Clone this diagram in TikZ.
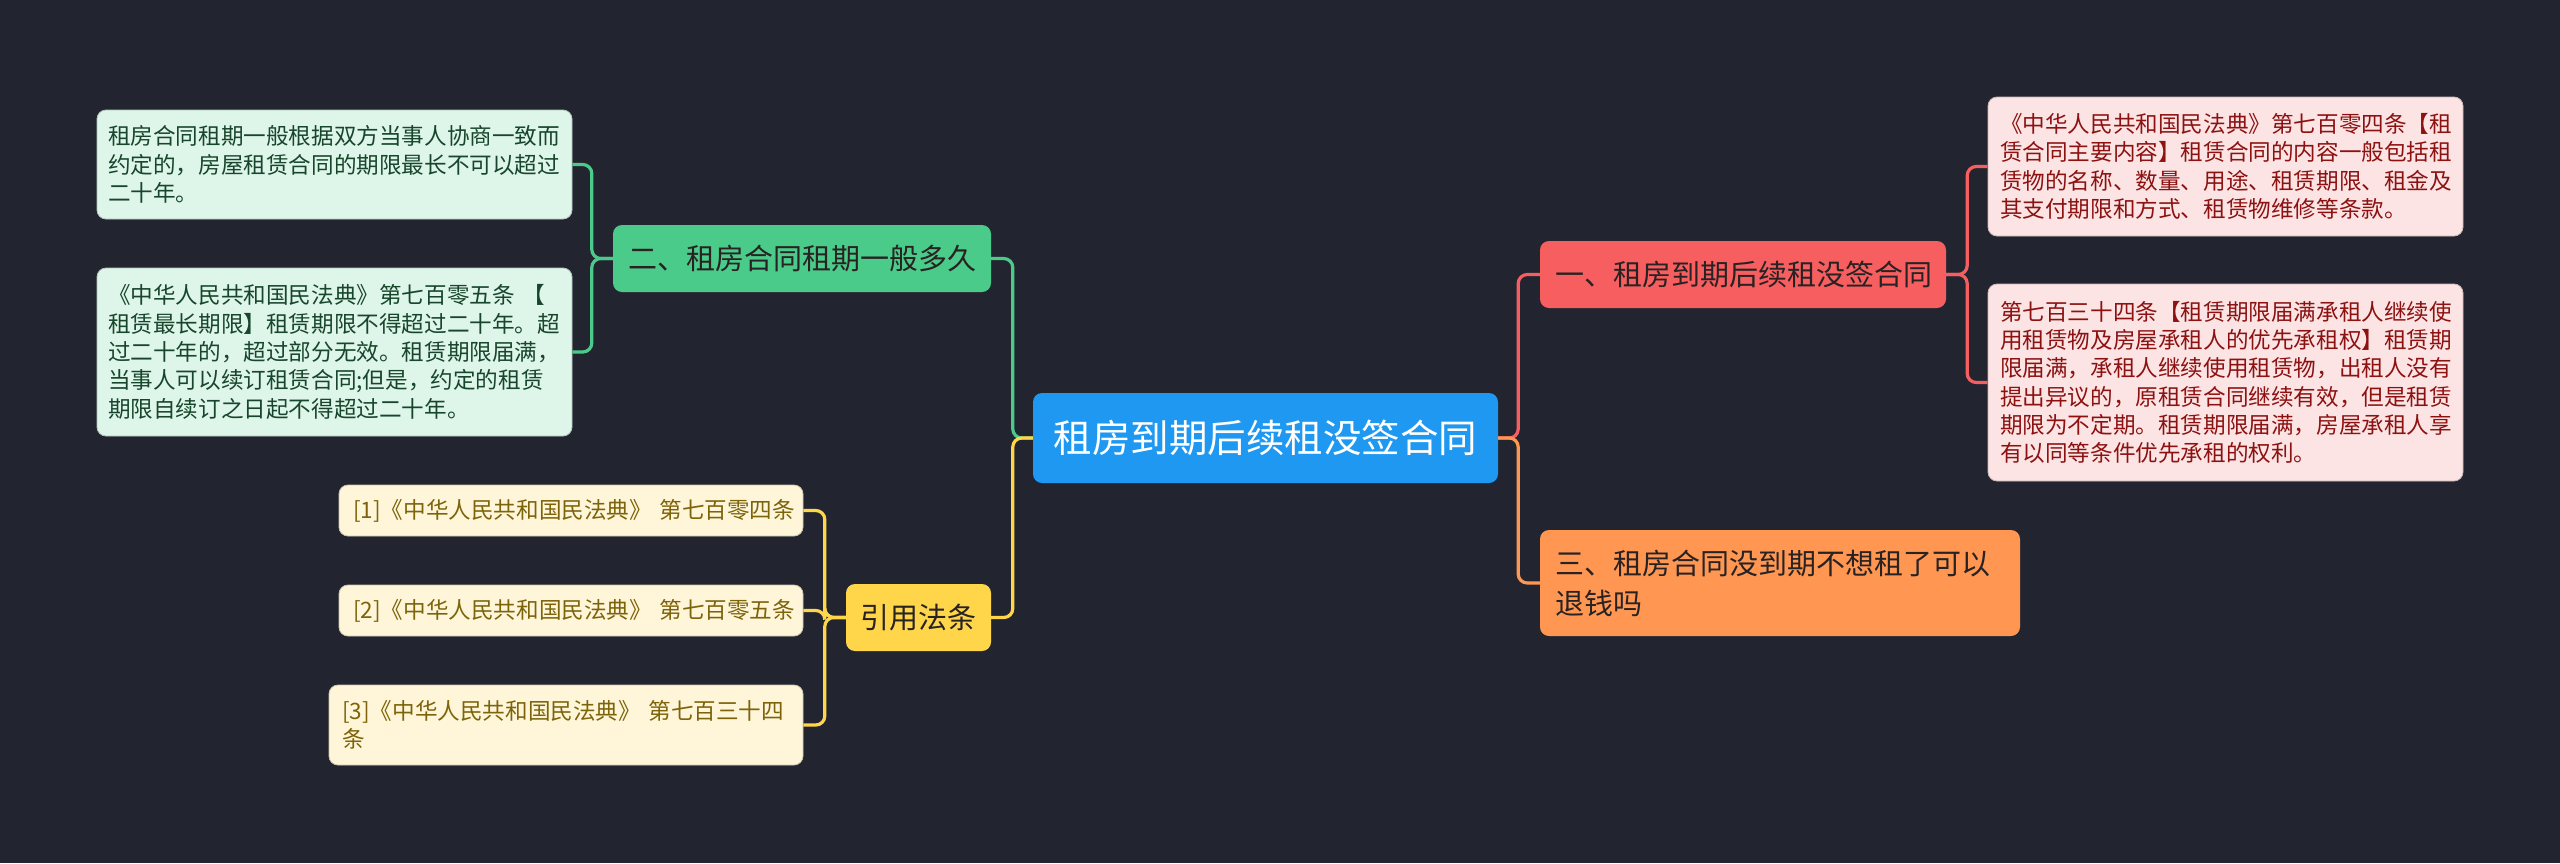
\documentclass[tikz,border=0pt]{standalone}
\usepackage{fontspec}
\setmainfont{Noto Sans CJK SC}
\definecolor{bg}{RGB}{34,37,48}
\definecolor{cblue}{RGB}{30,152,240}
\definecolor{cred}{RGB}{247,94,96}
\definecolor{cgreen}{RGB}{74,203,137}
\definecolor{corange}{RGB}{255,151,82}
\definecolor{cyellow}{RGB}{255,214,74}
\definecolor{lgreen}{RGB}{222,245,233}
\definecolor{lpink}{RGB}{253,228,228}
\definecolor{lcream}{RGB}{255,246,218}
\definecolor{tgreen}{RGB}{24,70,44}
\definecolor{tred}{RGB}{140,18,18}
\definecolor{tolive}{RGB}{125,100,10}
\definecolor{tdark}{RGB}{40,34,34}
\tikzset{
  box/.style={rounded corners=9pt, inner xsep=0pt, inner ysep=0pt, align=left},
  mainbox/.style={box, font=\fontsize{29}{40}\selectfont, text=tdark},
  leafbox/.style={box, font=\fontsize{22.6}{28.3}\selectfont},
  gleaf/.style={leafbox, fill=lgreen, text=tgreen, draw=lgreen!80!black, line width=0.8pt},
  pleaf/.style={leafbox, fill=lpink, text=tred, draw=lpink!80!black, line width=0.8pt},
  cleaf/.style={leafbox, fill=lcream, text=tolive, draw=lcream!80!black, line width=0.8pt},
  conn/.style={line width=3.2pt, rounded corners=9pt},
}
\begin{document}
\begin{tikzpicture}[x=1pt,y=-1pt]
\fill[bg] (0,0) rectangle (2560,863);
\useasboundingbox (0,0) rectangle (2560,863);

% central
\node[box, fill=cblue, text=white, align=center, font=\fontsize{38.5}{46}\selectfont,
  minimum width=465pt, minimum height=90pt] (c) at (1265.5,438) {租房到期后续租没签合同};

% main topics
\node[mainbox, fill=cred, minimum width=406pt, minimum height=67pt, text width=376pt] (n1) at (1743,274.5) {一、租房到期后续租没签合同};
\node[mainbox, fill=cgreen, minimum width=378pt, minimum height=67pt, text width=348pt] (n2) at (802,258.5) {二、租房合同租期一般多久};
\node[mainbox, fill=corange, minimum width=480pt, minimum height=106pt, text width=450pt] (n3) at (1780,583) {三、租房合同没到期不想租了可以\\退钱吗};
\node[mainbox, fill=cyellow, align=center, minimum width=145pt, minimum height=67pt] (cite) at (918.5,617.5) {引用法条};

% left leaves
\node[gleaf, minimum width=475pt, minimum height=109pt, text width=453pt] (l1) at (334.5,164.5) {租房合同租期一般根据双方当事人协商一致而\\约定的，房屋租赁合同的期限最长不可以超过\\二十年。};
\node[gleaf, minimum width=475pt, minimum height=168pt, text width=453pt] (l2) at (334.5,352) {《中华人民共和国民法典》第七百零五条~【\\租赁最长期限】租赁期限不得超过二十年。超\\过二十年的，超过部分无效。租赁期限届满，\\当事人可以续订租赁合同;但是，约定的租赁\\期限自续订之日起不得超过二十年。};

% citation leaves
\node[cleaf, minimum width=464pt, minimum height=51pt, text width=436pt] (c1) at (571,510.5) {[1]《中华人民共和国民法典》~第七百零四条};
\node[cleaf, minimum width=464pt, minimum height=51pt, text width=436pt] (c2) at (571,610.5) {[2]《中华人民共和国民法典》~第七百零五条};
\node[cleaf, minimum width=474pt, minimum height=80pt, text width=448pt] (c3) at (566,725) {[3]《中华人民共和国民法典》~第七百三十四\\条};

% right leaves
\node[pleaf, minimum width=475pt, minimum height=139pt, text width=451pt] (r1) at (2225.5,166.5) {《中华人民共和国民法典》第七百零四条【租\\赁合同主要内容】租赁合同的内容一般包括租\\赁物的名称、数量、用途、租赁期限、租金及\\其支付期限和方式、租赁物维修等条款。};
\node[pleaf, minimum width=475pt, minimum height=197pt, text width=451pt] (r2) at (2225.5,382.5) {第七百三十四条【租赁期限届满承租人继续使\\用租赁物及房屋承租人的优先承租权】租赁期\\限届满，承租人继续使用租赁物，出租人没有\\提出异议的，原租赁合同继续有效，但是租赁\\期限为不定期。租赁期限届满，房屋承租人享\\有以同等条件优先承租的权利。};

% connectors
\draw[conn, cgreen] (c.west) -- ++(-20,0) |- (n2.east);
\draw[conn, cyellow] (c.west) -- ++(-20,0) |- (cite.east);
\draw[conn, cred] (c.east) -- ++(20,0) |- (n1.west);
\draw[conn, corange] (c.east) -- ++(20,0) |- (n3.west);

\draw[conn, cgreen] (n2.west) -- ++(-21,0) |- (l1.east);
\draw[conn, cgreen] (n2.west) -- ++(-21,0) |- (l2.east);

\draw[conn, cyellow] (cite.west) -- ++(-21,0) |- (c1.east);
\draw[conn, cyellow] (cite.west) -- ++(-21,0) |- (c2.east);
\draw[conn, cyellow] (cite.west) -- ++(-21,0) |- (c3.east);

\draw[conn, cred] (n1.east) -- ++(21,0) |- (r1.west);
\draw[conn, cred] (n1.east) -- ++(21,0) |- (r2.west);
\end{tikzpicture}
\end{document}
